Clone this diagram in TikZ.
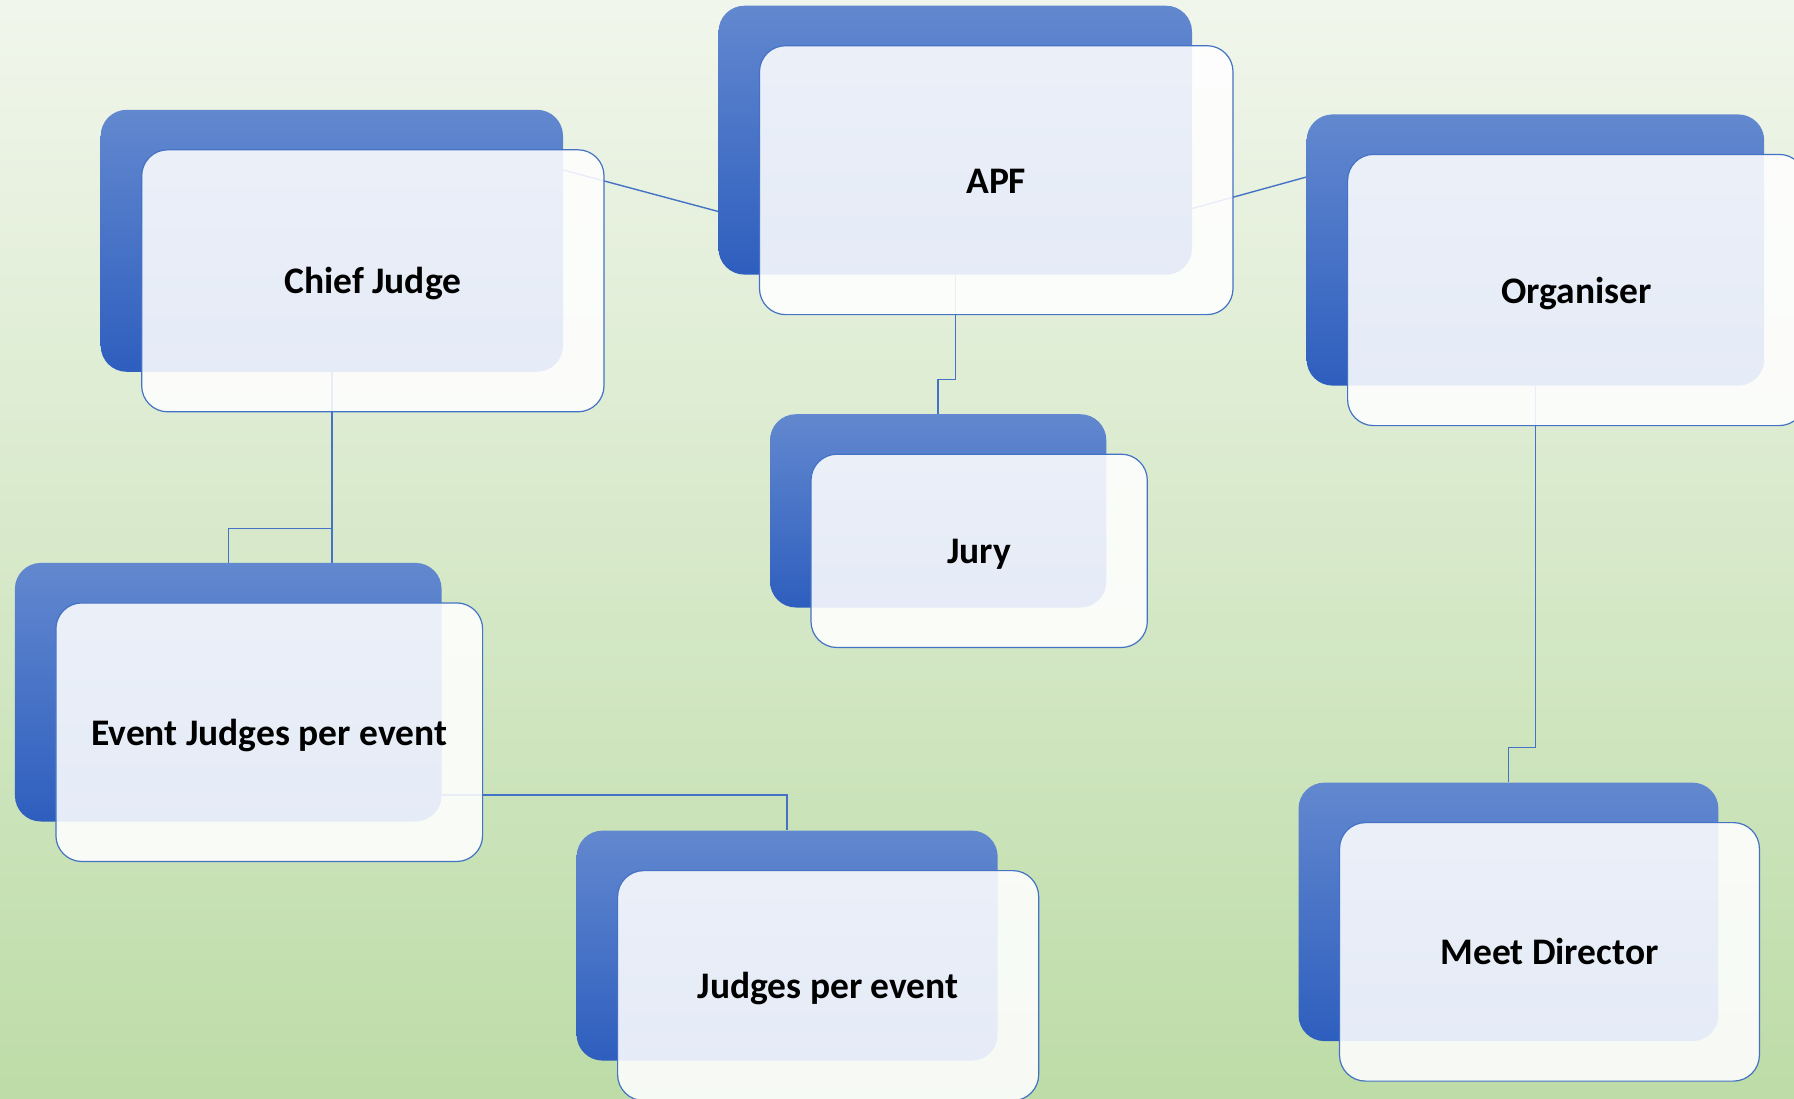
\documentclass[tikz,border=0pt]{standalone}
\usepackage{fontspec}
\setmainfont{Carlito}
\usetikzlibrary{calc}
\definecolor{bgtop}{RGB}{241,246,236}
\definecolor{bgbot}{RGB}{189,220,167}
\definecolor{bluetop}{RGB}{98,136,207}
\definecolor{bluebot}{RGB}{46,94,190}
\definecolor{boxline}{RGB}{68,114,196}
\definecolor{connc}{RGB}{68,114,196}
\pgfdeclarelayer{back}
\pgfdeclarelayer{conn}
\pgfsetlayers{back,conn,main}
\tikzset{
  blueb/.style={rectangle, rounded corners=26pt, inner sep=0pt, top color=bluetop, bottom color=bluebot, draw=none},
  whiteb/.style={rectangle, rounded corners=26pt, inner sep=0pt, fill=white, fill opacity=0.88, text opacity=1, draw=boxline, line width=1.2pt, text height=30pt, text depth=4pt, font=\fontsize{37.5}{45}\selectfont\bfseries},
  connline/.style={draw=connc, line width=1.4pt},
}
\begin{document}
\begin{tikzpicture}[x=1pt,y=-1pt]
\useasboundingbox (0,0) rectangle (1794,1098);
\begin{pgfonlayer}{back}
\shade[top color=bgtop, bottom color=bgbot] (0,0) rectangle (1794,1098);
\end{pgfonlayer}

% blue back boxes
\node[blueb, minimum width=473.5pt, minimum height=268.9pt] (apfB) at (955.25,140.15) {};
\node[blueb, minimum width=462.3pt, minimum height=262pt] (chiefB) at (331.85,240.8) {};
\node[blueb, minimum width=457.6pt, minimum height=271.2pt] (orgB) at (1535.4,250) {};
\node[blueb, minimum width=336.3pt, minimum height=193.3pt] (juryB) at (938.15,510.85) {};
\node[blueb, minimum width=426.7pt, minimum height=258.6pt] (eventB) at (228.25,692.2) {};
\node[blueb, minimum width=421.1pt, minimum height=230pt] (jpeB) at (787.15,945.6) {};
\node[blueb, minimum width=419.9pt, minimum height=258.5pt] (meetB) at (1508.45,911.85) {};

% white front boxes
\node[whiteb, minimum width=473.5pt, minimum height=268.9pt] (apf) at (996.25,180.15) {APF};
\node[whiteb, minimum width=462.3pt, minimum height=262pt] (chief) at (372.85,280.8) {Chief Judge};
\node[whiteb, minimum width=457.6pt, minimum height=271.2pt] (org) at (1576.4,290) {Organiser};
\node[whiteb, minimum width=336.3pt, minimum height=193.3pt] (jury) at (979.15,550.85) {Jury};
\node[whiteb, minimum width=426.7pt, minimum height=258.6pt] (event) at (269.25,732.2) {Event Judges per event};
\node[whiteb, minimum width=421.1pt, minimum height=230pt] (jpe) at (828.15,985.6) {Judges per event};
\node[whiteb, minimum width=419.9pt, minimum height=258.5pt] (meet) at (1549.45,951.85) {Meet Director};

% connectors
\begin{pgfonlayer}{conn}
\draw[connline] ([yshift=70.8pt]chiefB.east) -- ([yshift=-71.35pt]apfB.west);
\draw[connline] ([yshift=-68.35pt]apfB.east) -- ([yshift=73pt]orgB.west);
\draw[connline] (chiefB.south) -- ++(0,156.5) -| (eventB.north);
\draw[connline] (chiefB.south) -- (chiefB.south |- eventB.north);
\draw[connline] (apfB.south) -- ++(0,104.4) -| (juryB.north);
\draw[connline] (orgB.south) -- ++(0,361.5) -| (meetB.north);
\draw[connline] ([yshift=-102.8pt]eventB.east) -| (jpeB.north);
\end{pgfonlayer}
\end{tikzpicture}
\end{document}
